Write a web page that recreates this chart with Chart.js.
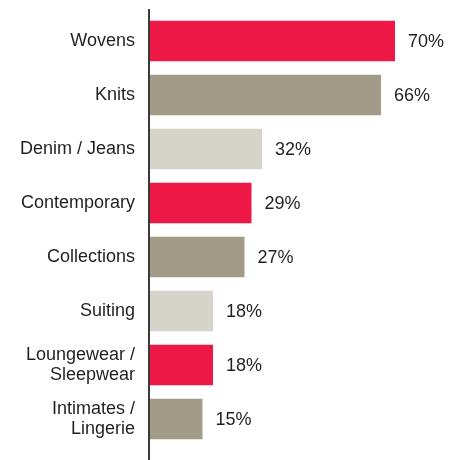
<!DOCTYPE html>
<html>
<head>
<meta charset="utf-8">
<script src="https://cdn.jsdelivr.net/npm/chart.js@4"></script>
<style>
  html, body { margin: 0; padding: 0; background: #fff; }
  #wrap { width: 458px; height: 460px; position: relative; }
</style>
</head>
<body>
<div id="wrap"><canvas id="bar-chart"></canvas></div>
<script>
const categories = [
  'Wovens',
  'Knits',
  'Denim / Jeans',
  'Contemporary',
  'Collections',
  'Suiting',
  ['Loungewear /', 'Sleepwear'],
  ['Intimates /', 'Lingerie']
];
const shares = [70, 66, 32, 29, 27, 18, 18, 15];
const barColors = [
  '#ee1846', '#a29b87', '#d6d3cb',
  '#ee1846', '#a29b87', '#d6d3cb',
  '#ee1846', '#a29b87'
];

const textColor = '#231f20';
const fontFamily = '"Liberation Sans", Arial, Helvetica, sans-serif';

// value labels at the end of each bar
const valueLabels = {
  id: 'valueLabels',
  afterDatasetsDraw(chart) {
    const ctx = chart.ctx;
    const meta = chart.getDatasetMeta(0);
    ctx.save();
    ctx.font = '18px ' + fontFamily;
    ctx.fillStyle = textColor;
    ctx.textAlign = 'left';
    ctx.textBaseline = 'middle';
    meta.data.forEach((bar, i) => {
      ctx.fillText(shares[i] + '%', bar.x + 13, bar.y + 1);
    });
    ctx.restore();
  }
};

// the vertical axis line runs a little past the bars
const axisLine = {
  id: 'axisLine',
  afterDraw(chart) {
    const ctx = chart.ctx;
    const x = chart.chartArea.left - 1;
    ctx.save();
    ctx.strokeStyle = '#3a3a3a';
    ctx.lineWidth = 2;
    ctx.beginPath();
    ctx.moveTo(x, chart.chartArea.top - 5);
    ctx.lineTo(x, chart.height);
    ctx.stroke();
    ctx.restore();
  }
};

new Chart(document.getElementById('bar-chart'), {
  type: 'bar',
  data: {
    labels: categories,
    datasets: [{
      data: shares,
      backgroundColor: barColors,
      borderWidth: 0,
      categoryPercentage: 1,
      barPercentage: 0.75
    }]
  },
  options: {
    indexAxis: 'y',
    responsive: true,
    maintainAspectRatio: false,
    animation: false,
    layout: { padding: { top: 14, bottom: 14, left: 0, right: 28 } },
    plugins: {
      legend: { display: false },
      tooltip: { enabled: false }
    },
    scales: {
      x: {
        display: false,
        min: 0,
        max: 80
      },
      y: {
        afterFit(scale) {
          scale.width = 150;
          scale.paddingTop = 0;
          scale.paddingBottom = 0;
        },
        grid: { display: false, drawTicks: false },
        border: { display: false },
        ticks: {
          padding: 15,
          color: textColor,
          font: { family: fontFamily, size: 18, lineHeight: 1.15 }
        }
      }
    }
  },
  plugins: [valueLabels, axisLine]
});
</script>
</body>
</html>
